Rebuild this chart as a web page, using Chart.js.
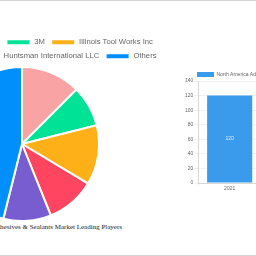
<!DOCTYPE html>
<html>
<head>
<meta charset="utf-8">
<script src="https://cdn.jsdelivr.net/npm/chart.js@4"></script>
<style>
  html, body { margin: 0; padding: 0; background: #fff; overflow: hidden; }
  #page { position: absolute; left: 0; top: 0; width: 256px; height: 254px;
          border-top: 1px solid #d4d4d4; border-bottom: 1px solid #d4d4d4; overflow: hidden; }
  #pieBox { position: absolute; left: -148px; top: 31px; width: 340px; height: 190px; }
  #pieTitle { position: absolute; left: -120px; top: 222px; width: 242px; text-align: right;
              font: 7px "Liberation Serif", "Times New Roman", serif; color: #222; white-space: nowrap; }
  #barBox { position: absolute; left: 184px; top: 58px; width: 77px; height: 134px; }
</style>
</head>
<body>
<div id="page">
  <div id="pieBox"><canvas id="playersChart" width="340" height="190"></canvas></div>
  <div id="pieTitle">North America Adhesives &amp; Sealants Market Leading Players</div>
  <div id="barBox"><canvas id="marketChart" width="77" height="134"></canvas></div>
</div>
<script>
// leading players share (%)
const playerNames = [
  "Henkel AG & Co. KGaA",
  "3M",
  "Illinois Tool Works Inc",
  "Avery Dennison",
  "Huntsman International LLC",
  "Others",
];
const playerShares = [12.5, 8.6, 12.5, 10.3, 10.0, 46.1];
const playerColors = ["#F9A3A4", "#00E396", "#FEB019", "#FF4560", "#775DD0", "#008FFB"];

// market size by year
const marketYears = ["2021"];
const marketValues = [120];
const marketLabel = "North America Adhesives & Sealants Market";
const yTicks = [0, 20, 40, 60, 80, 100, 120, 140];

new Chart(document.getElementById("playersChart"), {
  type: "pie",
  data: {
    labels: playerNames,
    datasets: [
      {
        data: playerShares,
        backgroundColor: playerColors,
        borderColor: "#ffffff",
        borderWidth: 2,
        hoverOffset: 0,
      },
    ],
  },
  options: {
    responsive: false,
    animation: false,
    layout: { padding: 0 },
    plugins: {
      legend: {
        position: "top",
        maxHeight: 34,
        labels: {
          boxWidth: 24,
          boxHeight: 6,
          padding: 6.3,
          color: "#666",
          font: { family: "Liberation Sans, Arial", size: 7.7 },
        },
      },
      tooltip: { enabled: false },
    },
  },
});

// value printed in the middle of each bar
const barValueLabels = {
  id: "barValueLabels",
  afterDatasetsDraw(chart) {
    const ctx = chart.ctx;
    const meta = chart.getDatasetMeta(0);
    ctx.save();
    ctx.fillStyle = "rgba(255,255,255,0.85)";
    ctx.font = "5px Liberation Sans, Arial";
    ctx.textAlign = "center";
    ctx.textBaseline = "middle";
    meta.data.forEach(function (bar, i) {
      ctx.fillText(String(marketValues[i]), bar.x, (bar.y + bar.base) / 2);
    });
    ctx.restore();
  },
};

new Chart(document.getElementById("marketChart"), {
  type: "bar",
  data: {
    labels: marketYears,
    datasets: [
      {
        label: marketLabel,
        data: marketValues,
        backgroundColor: "#3A9BED",
        borderWidth: 0,
      },
    ],
  },
  options: {
    responsive: false,
    animation: false,
    plugins: {
      legend: {
        align: "start",
        maxHeight: 22,
        labels: {
          boxWidth: 17,
          boxHeight: 5,
          padding: 13,
          color: "#666",
          font: { family: "Liberation Sans, Arial", size: 5 },
        },
      },
      tooltip: { enabled: false },
    },
    scales: {
      x: {
        grid: { color: "rgba(0,0,0,0.06)", tickLength: 2 },
        ticks: { color: "#666", font: { size: 5 }, padding: 1 },
      },
      y: {
        min: 0,
        max: 140,
        afterBuildTicks(axis) {
          axis.ticks = yTicks.map((v) => ({ value: v }));
        },
        grid: { color: "rgba(0,0,0,0.06)", tickLength: 4 },
        ticks: { color: "#666", font: { size: 5 }, padding: 1 },
      },
    },
  },
  plugins: [barValueLabels],
});
</script>
</body>
</html>
